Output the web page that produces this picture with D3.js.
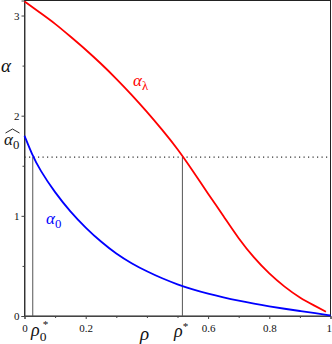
<!DOCTYPE html>
<html>
<head>
<meta charset="utf-8">
<script src="https://cdn.jsdelivr.net/npm/d3@7"></script>
<style>
  body { margin: 0; background: #fff; }
  text { font-family: "Liberation Serif", "Times New Roman", "DejaVu Serif", serif; }
</style>
</head>
<body>
<svg id="chart" width="332" height="344"></svg>
<script>
// values
var rhoTicks = [0, 0.2, 0.6, 0.8, 1];
var rhoMinor = [0.1, 0.3, 0.4, 0.5, 0.7, 0.9];
var alphaTicks = [0, 1, 2, 3];
var alphaMinor = [0.5, 1.5, 2.5];

var rhoRed = [0, 0.05, 0.1, 0.15, 0.2, 0.25, 0.3, 0.35, 0.4, 0.45, 0.5, 0.55, 0.6, 0.65, 0.7, 0.75, 0.8, 0.85, 0.9, 0.95, 0.985];
var alphaLambda = [3.14, 3.03, 2.92, 2.79, 2.66, 2.52, 2.37, 2.21, 2.04, 1.86, 1.67, 1.45, 1.22, 1.0, 0.77, 0.58, 0.42, 0.29, 0.18, 0.10, 0.043];

var rhoBlue = [0, 0.025, 0.05, 0.1, 0.15, 0.2, 0.25, 0.3, 0.35, 0.4, 0.45, 0.5, 0.55, 0.6, 0.65, 0.7, 0.75, 0.8, 0.85, 0.9, 0.95, 1];
var alpha0 = [1.80, 1.61, 1.46, 1.23, 1.04, 0.88, 0.74, 0.62, 0.525, 0.445, 0.375, 0.315, 0.265, 0.222, 0.185, 0.152, 0.122, 0.096, 0.072, 0.05, 0.028, 0.005];

var alphaHatLevel = 1.587;
var rhoStar0 = 0.027;
var rhoStar = 0.516;

var serif = "'Liberation Serif', 'Times New Roman', 'DejaVu Serif', serif";
var svg = d3.select("#chart");

var x = d3.scaleLinear().domain([0, 1]).range([24.5, 330.5]);
var y = d3.scaleLinear().domain([0, 3.15]).range([316, 0.5]);

// frame
svg.append("rect")
  .attr("x", x(0)).attr("y", y(3.15))
  .attr("width", x(1) - x(0)).attr("height", y(0) - y(3.15))
  .attr("fill", "none").attr("stroke", "#222").attr("stroke-width", 1);

// axes
var xAxis = svg.append("g").attr("transform", "translate(0," + y(0) + ")")
  .call(d3.axisBottom(x).tickValues(rhoTicks).tickSize(3).tickFormat(d3.format("~g")));
svg.append("g").attr("transform", "translate(0," + y(0) + ")")
  .call(d3.axisBottom(x).tickValues(rhoMinor).tickSize(2).tickFormat(""))
  .select(".domain").remove();

var yAxis = svg.append("g").attr("transform", "translate(" + x(0) + ",0)")
  .call(d3.axisLeft(y).tickValues(alphaTicks).tickSize(3).tickFormat(d3.format("d")));
svg.append("g").attr("transform", "translate(" + x(0) + ",0)")
  .call(d3.axisLeft(y).tickValues(alphaMinor).tickSize(2).tickFormat(""))
  .select(".domain").remove();

svg.selectAll("g").attr("font-family", serif);
svg.selectAll(".domain").attr("stroke", "#444");
svg.selectAll(".tick line").attr("stroke", "#444");
svg.selectAll(".tick text")
  .style("font-size", "11px")
  .attr("fill", "#111");
xAxis.selectAll(".tick text").attr("dy", "0.9em");
xAxis.selectAll(".tick text").filter(function(d) { return d === 1; })
  .attr("text-anchor", "end").attr("dx", "0.08em");
yAxis.selectAll(".tick text").attr("dx", "0.1em");

// dotted level line and vertical guides
svg.append("line")
  .attr("x1", x(0)).attr("x2", x(1))
  .attr("y1", y(alphaHatLevel)).attr("y2", y(alphaHatLevel))
  .attr("stroke", "#333").attr("stroke-width", 1.2)
  .attr("stroke-dasharray", "1.2,3.3");

svg.selectAll(".guide")
  .data([rhoStar0, rhoStar])
  .enter().append("line")
  .attr("class", "guide")
  .attr("x1", function(d) { return x(d); })
  .attr("x2", function(d) { return x(d); })
  .attr("y1", y(alphaHatLevel)).attr("y2", y(0))
  .attr("stroke", "#555").attr("stroke-width", 1);

// curves
var line = d3.line()
  .x(function(d) { return x(d[0]); })
  .y(function(d) { return y(d[1]); })
  .curve(d3.curveBasis);

svg.append("path")
  .datum(d3.zip(rhoRed, alphaLambda))
  .attr("d", line)
  .attr("fill", "none").attr("stroke", "#ff0000").attr("stroke-width", 1.8);

svg.append("path")
  .datum(d3.zip(rhoBlue, alpha0))
  .attr("d", line)
  .attr("fill", "none").attr("stroke", "#0000ff").attr("stroke-width", 1.8);

// labels
function mathLabel(px, py, main, sub, sup, color, size) {
  var t = svg.append("text")
    .attr("x", px).attr("y", py)
    .attr("fill", color)
    .style("font-size", size + "px")
    .style("font-style", "italic");
  t.append("tspan").text(main);
  if (sub) {
    t.append("tspan").attr("dy", size * 0.25).style("font-size", (size * 0.75) + "px")
      .style("font-style", "normal").text(sub);
  }
  if (sup) {
    var s = t.append("tspan").style("font-size", (size * 0.62) + "px").style("font-style", "normal").text(sup);
    if (sub) s.attr("dx", -size * 0.2).attr("dy", -size * 0.7);
    else s.attr("dy", -size * 0.4);
  }
  return t;
}

mathLabel(1, 72, "\u03b1", null, null, "#111", 19);
mathLabel(4, 145, "\u03b1", "0", null, "#111", 17);
// wide hat drawn over alpha
svg.append("path")
  .attr("d", "M5.5,133 L12.5,129 L19.5,133")
  .attr("fill", "none").attr("stroke", "#111").attr("stroke-width", 0.9);
mathLabel(133, 86, "\u03b1", "\u03bb", null, "#ff0000", 17);
mathLabel(46, 224, "\u03b1", "0", null, "#0000ff", 17);
mathLabel(140, 340, "\u03c1", null, null, "#111", 19);
mathLabel(174, 337, "\u03c1", null, "*", "#111", 18);
mathLabel(31, 336, "\u03c1", "0", "*", "#111", 18);
</script>
</body>
</html>
